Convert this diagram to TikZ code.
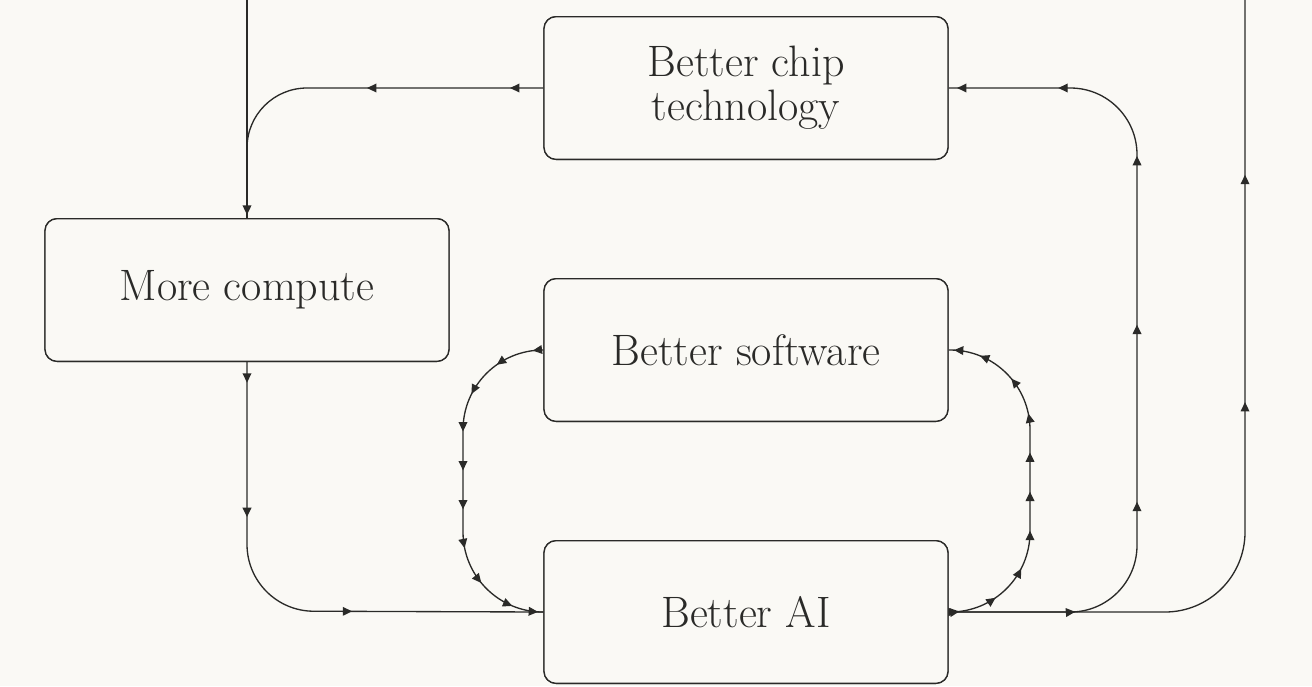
\documentclass[tikz,border=0pt]{standalone}
\usetikzlibrary{arrows.meta,decorations.markings}
\definecolor{paper}{HTML}{FAF9F5}
\definecolor{ink}{HTML}{2A2A28}
\tikzset{every picture/.style={line width=1pt}}
\tikzset{
  box/.style={draw=ink,rounded corners=9pt,minimum width=303pt,minimum height=107pt,
    align=center,font=\fontsize{33}{37}\selectfont,text=ink,fill=paper},
  wire/.style={draw=ink,rounded corners=#1},
  wire/.default=40,
  tip at/.style={postaction={decorate,decoration={markings,
    mark=at position #1 with {\arrow{Triangle[length=7pt,width=6.5pt]}}}}}
}

\begin{document}
\begin{tikzpicture}[x=0.75pt,y=0.75pt,yscale=-1,xscale=1]
	\fill[paper] (0,0) rectangle (1312,686);
	\useasboundingbox (0,0) rectangle (1312,686);
	
	% connectors first, boxes on top
	\coordinate (topL) at (247,0);
	\coordinate (topR) at (1245,0);
	
	% boxes
	\node[box] (chip) at (746,88) {Better chip\\[-4pt]technology};
	\node[box] (compute) at (247,290) {More compute};
	\node[box] (soft) at (746,350) {Better software};
	\node[box] (ai) at (746,612) {Better AI};
	
	% chip -> compute
	\draw[ink,tip at=0.985] (topL) -- (compute.north);
	\draw[wire=45,tip at/.list={0.1,0.53}] (chip.west) -- (247,88) -- (247,150);
	% compute -> AI
	\draw[wire=50,tip at/.list={0.04,0.3,0.63}] (compute.south) -- (247,611) -- (ai.west);
	% software <-> AI loops
	\draw[wire=60,tip at/.list={0.03,0.14,0.25,0.36,0.47,0.58,0.69,0.8,0.91,0.985}] (soft.west) -- (463,350) -- (463,612) -- (ai.west);
	\draw[wire=60,tip at/.list={0.03,0.14,0.25,0.36,0.47,0.58,0.69,0.8,0.91,0.985}] (ai.east) -- (1030,612) -- (1030,350) -- (soft.east);
	% AI -> chip
	\draw[wire=50,tip at/.list={0.01,0.15,0.32,0.53,0.73,0.87,0.99}] (ai.east) -- (1137,612) -- (1137,88) -- (chip.east);
	% AI -> beyond
	\draw[wire=60,tip at/.list={0.54,0.8}] (ai.east) -- (1245,612) -- (topR);
	
	% redraw boxes above wires
	\node[box] at (chip) {Better chip\\[-4pt]technology};
	\node[box] at (compute) {More compute};
	\node[box] at (soft) {Better software};
	\node[box] at (ai) {Better AI};
\end{tikzpicture}
\end{document}
